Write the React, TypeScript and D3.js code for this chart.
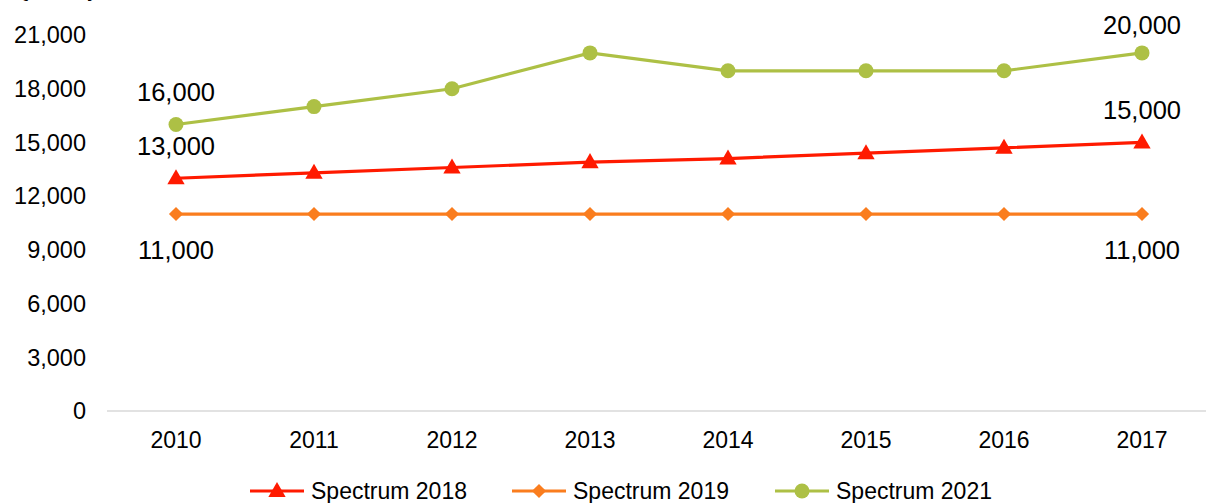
import React from "react";
import * as d3 from "d3";

const years = ["2010", "2011", "2012", "2013", "2014", "2015", "2016", "2017"];
const spectrum2018 = [13000, 13300, 13600, 13900, 14100, 14400, 14700, 15000];
const spectrum2019 = [11000, 11000, 11000, 11000, 11000, 11000, 11000, 11000];
const spectrum2021 = [16000, 17000, 18000, 20000, 19000, 19000, 19000, 20000];
const yTicks = [0, 3000, 6000, 9000, 12000, 15000, 18000, 21000];
const seriesNames = ["Spectrum 2018", "Spectrum 2019", "Spectrum 2021"];

const W = 1206;
const H = 503;
const FONT = "'Liberation Sans', Arial, sans-serif";
const colors = ["#FF1A00", "#FA7D1E", "#ADC045"];

function Marker({ kind, x, y, color }: { kind: number; x: number; y: number; color: string }) {
  if (kind === 0) {
    const p = d3.symbol().type(d3.symbolTriangle).size(130)();
    return <path d={p as string} transform={`translate(${x},${y + 1})`} fill={color} />;
  }
  if (kind === 1) {
    const p = d3.symbol().type(d3.symbolSquare).size(100)();
    return <path d={p as string} transform={`translate(${x},${y}) rotate(45)`} fill={color} />;
  }
  return <circle cx={x} cy={y} r={7.5} fill={color} />;
}

export default function App() {
  const x = d3.scalePoint<string>().domain(years).range([176, 1142]);
  const y = d3.scaleLinear().domain([0, 21000]).range([411, 35]);
  const line = d3
    .line<number>()
    .x((_, i) => x(years[i]) as number)
    .y((d) => y(d));
  const all = [spectrum2018, spectrum2019, spectrum2021];
  const step = x.step();
  const fmt = d3.format(",");

  // data labels: [seriesIndex, pointIndex, dy]
  const labels: [number, number, number][] = [
    [2, 0, -32],
    [0, 0, -32],
    [1, 0, 36],
    [2, 7, -28],
    [0, 7, -32],
    [1, 7, 36],
  ];

  const legendX = [250, 512, 775];

  return (
    <svg
      width={W}
      height={H}
      style={{ position: "absolute", left: 0, top: 0, background: "#fff" }}
      fontFamily={FONT}
    >
      <text x={13} y={-4} fontSize={23} fill="#000">
        Quantity, in MHz
      </text>
      {yTicks.map((t) => (
        <text key={t} x={86} y={y(t)} dy="0.35em" textAnchor="end" fontSize={23.5} fill="#000">
          {fmt(t)}
        </text>
      ))}
      <line
        x1={(x(years[0]) as number) - step / 2}
        x2={(x(years[years.length - 1]) as number) + step / 2}
        y1={y(0)}
        y2={y(0)}
        stroke="#D9D9D9"
        strokeWidth={1.5}
      />
      {years.map((yr) => (
        <text key={yr} x={x(yr) as number} y={440} dy="0.35em" textAnchor="middle" fontSize={23} fill="#000">
          {yr}
        </text>
      ))}
      {all.map((s, si) => (
        <g key={si}>
          <path d={line(s) as string} fill="none" stroke={colors[si]} strokeWidth={3.2} />
          {s.map((v, i) => (
            <Marker key={i} kind={si} x={x(years[i]) as number} y={y(v)} color={colors[si]} />
          ))}
        </g>
      ))}
      {labels.map(([si, pi, dy], k) => (
        <text
          key={k}
          x={x(years[pi]) as number}
          y={y(all[si][pi]) + dy}
          dy="0.35em"
          textAnchor="middle"
          fontSize={25.5}
          fill="#000"
        >
          {fmt(all[si][pi])}
        </text>
      ))}
      {seriesNames.map((n, i) => (
        <g key={n}>
          <line x1={legendX[i]} x2={legendX[i] + 54} y1={491} y2={491} stroke={colors[i]} strokeWidth={3.2} />
          <Marker kind={i} x={legendX[i] + 27} y={491} color={colors[i]} />
          <text x={legendX[i] + 61} y={491} dy="0.35em" fontSize={23} fill="#000">
            {n}
          </text>
        </g>
      ))}
    </svg>
  );
}
